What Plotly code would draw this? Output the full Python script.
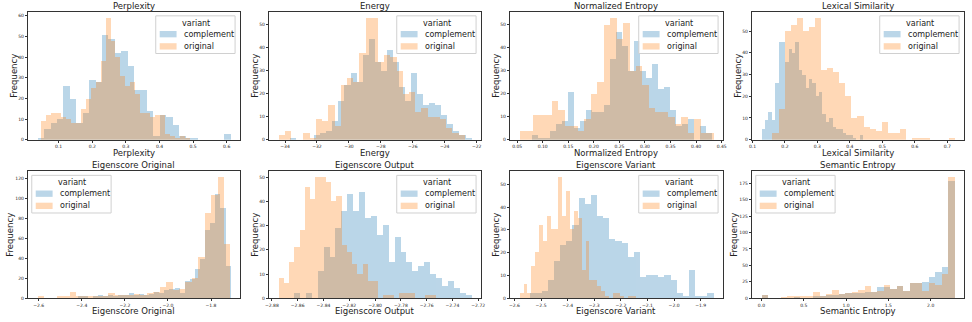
import plotly.graph_objects as go

W, H = 972, 322

# ---- histogram counts (30 bins per series) ----
# each series was binned over its own range (lo, hi)
PERPLEXITY_COMP_RANGE = (0.037, 0.611)
PERPLEXITY_COMP = [1, 5, 8, 10, 26, 20, 8, 13, 29, 28, 51, 49, 42, 43, 36,
                   24, 24, 14, 2, 12, 11, 7, 2, 1, 1, 0, 0, 0, 0, 3]
PERPLEXITY_ORIG_RANGE = (0.047, 0.490)
PERPLEXITY_ORIG = [9, 12, 13, 13, 11, 10, 8, 8, 15, 20, 25, 28, 38, 59, 48,
                   40, 31, 26, 28, 22, 13, 13, 11, 12, 12, 3, 2, 1, 2, 1]

ENERGY_COMP_RANGE = (-33.70, -22.33)
ENERGY_COMP = [1, 0, 0, 0, 2, 3, 4, 8, 17, 24, 29, 25, 37, 44, 34,
               30, 39, 34, 23, 17, 29, 20, 15, 16, 15, 11, 7, 4, 2, 1]
ENERGY_ORIG_RANGE = (-34.41, -22.75)
ENERGY_ORIG = [2, 4, 0, 0, 3, 1, 9, 8, 15, 6, 24, 27, 25, 38, 53,
               53, 34, 37, 36, 30, 20, 21, 12, 14, 10, 10, 9, 5, 3, 2]

NORM_ENT_COMP_RANGE = (0.0788, 0.430)
NORM_ENT_COMP = [2, 1, 1, 4, 7, 8, 21, 5, 8, 13, 12, 12, 15, 35, 47,
                 41, 30, 43, 30, 27, 33, 22, 23, 13, 6, 7, 9, 0, 6, 3]
NORM_ENT_ORIG_RANGE = (0.0546, 0.4337)
NORM_ENT_ORIG = [4, 4, 11, 11, 11, 17, 13, 6, 6, 4, 9, 20, 25, 50, 53,
                 44, 51, 30, 32, 24, 14, 12, 12, 10, 7, 10, 3, 9, 3, 3]

LEX_SIM_COMP_RANGE = (0.1276, 0.440)
LEX_SIM_COMP = [5, 9, 13, 9, 26, 45, 45, 36, 42, 40, 45, 32, 30, 24, 28,
                26, 20, 22, 12, 8, 10, 6, 5, 5, 3, 2, 2, 1, 0, 2]
LEX_SIM_ORIG_RANGE = (0.161, 0.722)
LEX_SIM_ORIG = [3, 14, 50, 53, 56, 50, 52, 56, 32, 33, 31, 26, 20, 10, 11,
                6, 5, 4, 8, 3, 3, 5, 0, 1, 1, 1, 0, 0, 0, 1]

EIG_ORIG_COMP_RANGE = (-2.42, -1.71)
EIG_ORIG_COMP = [1, 1, 0, 2, 3, 2, 3, 1, 3, 3, 5, 3, 4, 3, 4,
                 6, 5, 8, 9, 10, 5, 17, 19, 29, 39, 68, 75, 104, 90, 32]
EIG_ORIG_ORIG_RANGE = (-2.606, -1.711)
EIG_ORIG_ORIG = [1, 0, 0, 1, 1, 6, 2, 1, 2, 2, 2, 5, 3, 3, 3,
                 4, 3, 5, 6, 11, 16, 8, 9, 16, 20, 41, 85, 103, 121, 54]

EIG_OUT_COMP_RANGE = (-2.863, -2.7253)
EIG_OUT_COMP = [2, 0, 2, 0, 11, 21, 17, 29, 36, 43, 36, 44, 33, 34, 26,
                30, 15, 25, 19, 15, 11, 13, 15, 10, 8, 5, 7, 4, 2, 1]
EIG_OUT_ORIG_RANGE = (-2.8749, -2.753)
EIG_OUT_ORIG = [8, 6, 15, 21, 28, 46, 41, 50, 50, 48, 40, 42, 22, 19, 14,
                10, 14, 7, 7, 0, 1, 1, 0, 2, 2, 2, 0, 0, 1, 1]

EIG_VAR_COMP_RANGE = (-2.544, -1.8525)
EIG_VAR_COMP = [2, 2, 3, 8, 16, 23, 25, 32, 44, 41, 45, 36, 35, 26, 25,
                24, 18, 20, 9, 10, 10, 9, 10, 8, 2, 1, 12, 1, 1, 2]
EIG_VAR_ORIG_RANGE = (-2.581, -2.144)
EIG_VAR_ORIG = [2, 6, 2, 14, 20, 32, 25, 36, 30, 30, 53, 36, 47, 30, 38,
                35, 12, 25, 8, 8, 5, 3, 1, 0, 2, 2, 1, 0, 1, 1]

SEM_ENT_COMP_RANGE = (0.0, 2.28)
SEM_ENT_COMP = [5, 0, 0, 0, 0, 1, 0, 0, 2, 3, 5, 4, 6, 7, 7,
                8, 9, 9, 17, 17, 14, 18, 10, 22, 22, 24, 32, 40, 47, 178]
SEM_ENT_ORIG_RANGE = (0.0, 2.28)
SEM_ENT_ORIG = [5, 0, 0, 1, 3, 2, 2, 2, 9, 2, 6, 12, 6, 8, 9,
                12, 18, 9, 10, 20, 14, 18, 10, 22, 22, 10, 23, 19, 36, 184]

TITLES = ["Perplexity", "Energy", "Normalized Entropy", "Lexical Similarity",
          "Eigenscore Original", "Eigenscore Output", "Eigenscore Variant",
          "Semantic Entropy"]
VARIANTS = ["complement", "original"]

PANELS = [
    (PERPLEXITY_COMP_RANGE, PERPLEXITY_COMP, PERPLEXITY_ORIG_RANGE, PERPLEXITY_ORIG),
    (ENERGY_COMP_RANGE, ENERGY_COMP, ENERGY_ORIG_RANGE, ENERGY_ORIG),
    (NORM_ENT_COMP_RANGE, NORM_ENT_COMP, NORM_ENT_ORIG_RANGE, NORM_ENT_ORIG),
    (LEX_SIM_COMP_RANGE, LEX_SIM_COMP, LEX_SIM_ORIG_RANGE, LEX_SIM_ORIG),
    (EIG_ORIG_COMP_RANGE, EIG_ORIG_COMP, EIG_ORIG_ORIG_RANGE, EIG_ORIG_ORIG),
    (EIG_OUT_COMP_RANGE, EIG_OUT_COMP, EIG_OUT_ORIG_RANGE, EIG_OUT_ORIG),
    (EIG_VAR_COMP_RANGE, EIG_VAR_COMP, EIG_VAR_ORIG_RANGE, EIG_VAR_ORIG),
    (SEM_ENT_COMP_RANGE, SEM_ENT_COMP, SEM_ENT_ORIG_RANGE, SEM_ENT_ORIG),
]

# tick layout per panel: x tick0, x dtick, x format, y dtick, legend corner
TICKS = [
    (0.1, 0.1, ".1f", 10, "right"),
    (-34, 2, "d", 10, "right"),
    (0.05, 0.05, ".2f", 10, "right"),
    (0.1, 0.1, ".1f", 10, "right"),
    (-2.6, 0.2, ".1f", 20, "left"),
    (-2.88, 0.02, ".2f", 10, "right"),
    (-2.6, 0.1, ".1f", 10, "right"),
    (0.0, 0.5, ".1f", 25, "left"),
]

COLORS = {"complement": "#1f77b4", "original": "#ff7f0e"}
ALPHA = 0.3
FONT = "DejaVu Sans"

# subplot frames in pixels (left, right) / (top, bottom)
COLS_PX = [(24, 238), (267, 481), (510, 725), (754, 968)]
ROWS_PX = [(12, 141), (173, 301)]


def px(x, y):
    """pixel position (from top-left) -> paper coords"""
    return x / W, 1 - y / H


def rgba(hex_color, a):
    h = hex_color.lstrip("#")
    r, g, b = (int(h[k:k + 2], 16) for k in (0, 2, 4))
    return f"rgba({r},{g},{b},{a})"


def add_legend(shapes, annotations, left, top):
    """matplotlib-style legend box (80x38 px) with title 'variant'."""
    bx0, by0 = px(left, top)
    bx1, by1 = px(left + 80, top + 38)
    shapes.append(dict(type="rect", xref="paper", yref="paper",
                       x0=bx0, x1=bx1, y0=by1, y1=by0,
                       line=dict(color="#d0d0d0", width=1),
                       fillcolor="rgba(255,255,255,0.8)", layer="above"))
    tx, ty = px(left + 41, top + 7.5)
    annotations.append(dict(text="variant", x=tx, y=ty, xanchor="center",
                            yanchor="middle", font=dict(size=8)))
    for k, name in enumerate(VARIANTS):
        yc = top + 18.5 + 12.3 * k
        p0 = px(left + 4, yc - 3.2)
        p1 = px(left + 21, yc + 3.2)
        shapes.append(dict(type="rect", xref="paper", yref="paper",
                           x0=p0[0], x1=p1[0], y0=p1[1], y1=p0[1],
                           line=dict(width=0),
                           fillcolor=rgba(COLORS[name], ALPHA), layer="above"))
        lx, ly = px(left + 26, yc)
        annotations.append(dict(text=name, x=lx, y=ly, xanchor="left",
                                yanchor="middle", font=dict(size=8)))


fig = go.Figure()
annotations = []
shapes = []

for i, (crange, ccounts, orange_, ocounts) in enumerate(PANELS):
    r, c = divmod(i, 4)
    x0, x1 = COLS_PX[c]
    y0, y1 = ROWS_PX[r]
    sfx = "" if i == 0 else str(i + 1)
    tick0, dtick, fmt, ydt, corner = TICKS[i]

    for name, (lo, hi), counts in (("complement", crange, ccounts),
                                   ("original", orange_, ocounts)):
        n = len(counts)
        w = (hi - lo) / n
        centers = [lo + w * (k + 0.5) for k in range(n)]
        fig.add_trace(go.Bar(
            x=centers, y=counts, width=w, name=name,
            marker=dict(color=COLORS[name], line=dict(width=0)),
            opacity=ALPHA, xaxis="x" + sfx, yaxis="y" + sfx,
            showlegend=False, hoverinfo="skip",
        ))

    lo = min(crange[0], orange_[0])
    hi = max(crange[1], orange_[1])
    pad = 0.05 * (hi - lo)
    ymax = max(max(ccounts), max(ocounts)) * 1.05

    axis_common = dict(showline=True, mirror=True, linecolor="#333",
                       linewidth=1, ticks="outside", ticklen=2, tickwidth=0.6,
                       tickcolor="#333", showgrid=False, zeroline=False,
                       tickfont=dict(size=4.5, color="#222"))
    fig.update_layout({
        "xaxis" + sfx: dict(domain=[x0 / W, x1 / W], anchor="y" + sfx,
                            range=[lo - pad, hi + pad], tick0=tick0,
                            dtick=dtick, tickformat=fmt, **axis_common),
        "yaxis" + sfx: dict(domain=[1 - y1 / H, 1 - y0 / H], anchor="x" + sfx,
                            range=[0, ymax], tick0=0, dtick=ydt,
                            **axis_common),
    })

    ylab_off = 18 if ymax >= 100 else 14
    annotations += [
        dict(text=TITLES[i], x=(x0 + x1) / 2 / W, y=1 - (y0 - 6) / H,
             xanchor="center", yanchor="middle", font=dict(size=8.5)),
        dict(text=TITLES[i], x=(x0 + x1) / 2 / W, y=1 - (y1 + 13) / H,
             xanchor="center", yanchor="middle", font=dict(size=8.5)),
        dict(text="Frequency", x=(x0 - ylab_off) / W, y=1 - (y0 + y1) / 2 / H,
             xanchor="center", yanchor="middle", textangle=-90,
             font=dict(size=8.5)),
    ]

    leg_left = x1 - 85 if corner == "right" else x0 + 4
    add_legend(shapes, annotations, leg_left, y0 + 4)

for a in annotations:
    a.update(xref="paper", yref="paper", showarrow=False)

fig.update_layout(
    width=W, height=H, barmode="overlay", bargap=0,
    margin=dict(l=0, r=0, t=0, b=0),
    paper_bgcolor="white", plot_bgcolor="white",
    font=dict(family=FONT, color="#222"),
    annotations=annotations, shapes=shapes,
)

fig.write_html(
    "out.html",
    config={"displayModeBar": False},
    post_script="document.body.style.margin='0';"
                "document.body.style.overflow='hidden';",
)
